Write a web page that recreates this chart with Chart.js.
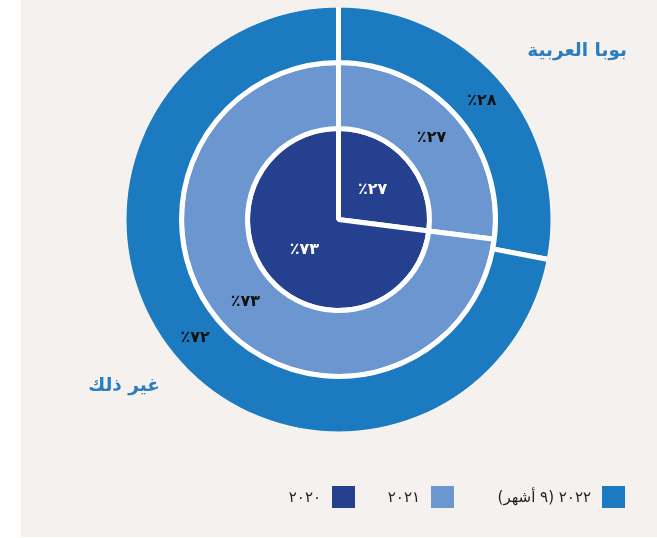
<!DOCTYPE html>
<html lang="ar">
<head>
    <meta charset="UTF-8">
    <title>حصة السوق</title>
    <script src="https://cdn.jsdelivr.net/npm/chart.js"></script>
    <style>
        body {
            margin: 0;
            background-color: #ffffff;
            font-family: "DejaVu Sans", sans-serif;
        }
        .panel {
            position: absolute;
            left: 21px;
            top: 0;
            width: 636px;
            height: 537px;
            background-color: #f4f1ee;
        }
        .wrap {
            position: absolute;
            left: 0;
            top: 0;
            width: 657px;
            height: 538px;
        }
    </style>
</head>
<body>
    <div class="panel"></div>
    <div class="wrap"><canvas id="chart"></canvas></div>

    <script>
        // categories (slices) and years (rings, outer -> inner)
        const categories = ['بوبا العربية', 'غير ذلك'];
        const years = ['٢٠٢٢ (٩ أشهر)', '٢٠٢١', '٢٠٢٠'];
        const share2022 = [28, 72];
        const share2021 = [27, 73];
        const share2020 = [27, 73];
        const yearColors = ['#1c7bc0', '#6b96cf', '#24408e'];
        const panelColor = '#f4f1ee';

        function arabicDigits(n) {
            return String(n).replace(/[0-9]/g, d => '٠١٢٣٤٥٦٧٨٩'[d]);
        }

        const labelsPlugin = {
            id: 'ringLabels',
            afterDatasetsDraw(chart) {
                const ctx = chart.ctx;
                ctx.save();

                // hide the white stroke on the outside edge of the outer ring
                const outer = chart.getDatasetMeta(0).data[0];
                ctx.beginPath();
                ctx.arc(outer.x, outer.y, outer.outerRadius, 0, Math.PI * 2);
                ctx.strokeStyle = panelColor;
                ctx.lineWidth = 6;
                ctx.stroke();

                ctx.textAlign = 'center';
                ctx.textBaseline = 'middle';
                ctx.direction = 'ltr';
                ctx.font = 'bold 16px "DejaVu Sans", sans-serif';
                chart.data.datasets.forEach((ds, di) => {
                    const meta = chart.getDatasetMeta(di);
                    meta.data.forEach((arc, i) => {
                        const p = arc.tooltipPosition();
                        ctx.fillStyle = di === 2 ? '#ffffff' : '#111111';
                        ctx.fillText('٪' + arabicDigits(ds.data[i]), p.x, p.y);
                    });
                });

                // category names
                ctx.direction = 'rtl';
                ctx.textAlign = 'right';
                ctx.fillStyle = '#2a7dc0';
                ctx.font = 'bold 18.5px "DejaVu Sans", sans-serif';
                ctx.fillText(categories[0], 627, 51);
                ctx.fillText(categories[1], 160, 386);

                // legend
                ctx.font = '15px "DejaVu Sans", sans-serif';
                const boxRight = [625, 454, 355];
                years.forEach((y, i) => {
                    ctx.fillStyle = yearColors[i];
                    ctx.fillRect(boxRight[i] - 23, 486, 23, 22);
                    ctx.fillStyle = '#222222';
                    ctx.fillText(y, boxRight[i] - 34, 498);
                });
                ctx.restore();
            }
        };

        new Chart(document.getElementById('chart'), {
            type: 'doughnut',
            data: {
                labels: categories,
                datasets: [
                    { label: years[0], data: share2022, backgroundColor: yearColors[0], weight: 58 },
                    { label: years[1], data: share2021, backgroundColor: yearColors[1], weight: 66 },
                    { label: years[2], data: share2020, backgroundColor: yearColors[2], weight: 91 }
                ]
            },
            options: {
                responsive: true,
                maintainAspectRatio: false,
                animation: false,
                cutout: 0,
                borderColor: '#ffffff',
                borderWidth: 5,
                layout: {
                    padding: { left: 121, right: 101, top: 2, bottom: 101 }
                },
                plugins: {
                    legend: { display: false },
                    tooltip: { enabled: false }
                }
            },
            plugins: [labelsPlugin]
        });
    </script>
</body>
</html>
